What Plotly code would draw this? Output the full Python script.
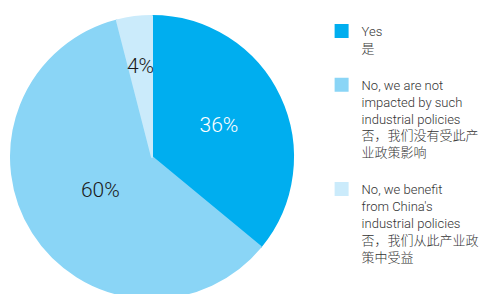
import plotly.graph_objects as go

labels = [
    "Yes<br>是<br> ",
    "No, we are not<br>impacted by such<br>industrial policies<br>否，我们没有受此产<br>业政策影响<br> ",
    "No, we benefit<br>from China's<br>industrial policies<br>否，我们从此产业政<br>策中受益",
]
values = [36, 60, 4]
colors = ["#00AEEF", "#8AD5F6", "#CBEBFB"]
text_colors = ["#FFFFFF", "#1A1A1A", "#1A1A1A"]
pct_text = [f"{v}%" for v in values]

W, H = 497, 294
T = 4
ph = H - T
cx, diam = 144, 282
cy = ph / 2

fig = go.Figure()
fig.add_trace(go.Pie(
    labels=labels,
    values=values,
    sort=False,
    direction="clockwise",
    rotation=0,
    marker=dict(colors=colors, line=dict(width=2, color=colors)),
    text=[pct_text[0], "", ""],
    textinfo="text",
    textposition="inside",
    insidetextorientation="horizontal",
    textfont=dict(color=text_colors, size=21, family="Roboto", weight=300),
    hoverinfo="skip",
    domain=dict(x=[(cx - diam / 2) / W, (cx + diam / 2) / W],
                y=[(cy - diam / 2) / ph, (cy + diam / 2) / ph]),
))

# transparent overlay pies (same data) used only to place labels nearer the centre
def overlay(d, shown):
    fig.add_trace(go.Pie(
        labels=labels,
        values=values,
        sort=False,
        direction="clockwise",
        rotation=0,
        marker=dict(colors=["rgba(0,0,0,0)"] * 3, line=dict(width=0)),
        text=[t if i in shown else "" for i, t in enumerate(pct_text)],
        textinfo="text",
        textposition="inside",
        insidetextorientation="horizontal",
        textfont=dict(color=text_colors, size=21, family="Roboto", weight=300),
        hoverinfo="skip",
        showlegend=False,
        domain=dict(x=[(cx - d / 2) / W, (cx + d / 2) / W],
                    y=[(cy - d / 2) / ph, (cy + d / 2) / ph]),
    ))

overlay(245, [1])
overlay(206, [2])

fig.update_layout(
    width=W, height=H,
    margin=dict(l=0, r=0, t=T, b=0),
    paper_bgcolor="white",
    uniformtext=dict(minsize=21, mode="show"),
    font=dict(family="Roboto, 'Noto Sans CJK SC'", size=13, color="#333333"),
    legend=dict(
        x=0.631, y=1 - 4 / ph, xanchor="left", yanchor="top",
        valign="top",
        font=dict(family="Roboto, 'Noto Sans CJK SC'", size=13, color="#333333", weight=300),
        bgcolor="rgba(0,0,0,0)",
    ),
    showlegend=True,
)
fig.write_html("out.html")
